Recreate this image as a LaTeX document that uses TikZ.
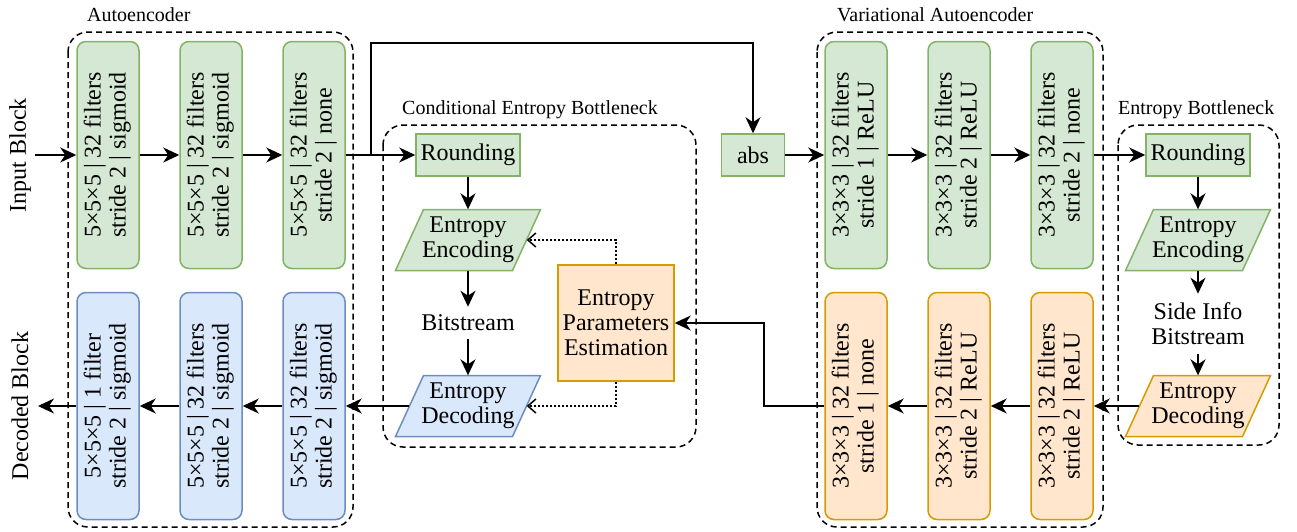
\documentclass[tikz,border=0pt]{standalone}
\usepackage{fontspec}
\setmainfont{Liberation Serif}
\usetikzlibrary{arrows.meta}
\definecolor{gfill}{HTML}{D5E8D4}\definecolor{gdraw}{HTML}{82B366}
\definecolor{bfill}{HTML}{DAE8FC}\definecolor{bdraw}{HTML}{6C8EBF}
\definecolor{ofill}{HTML}{FFE6CC}\definecolor{odraw}{HTML}{D79B00}
\newcommand\layertext[2]{\rotatebox{90}{\begin{tabular}{@{}c@{}}#1\\#2\end{tabular}}}
\newcommand\parashape[4]{%
  \filldraw[fill=#3,draw=#4,line width=1.5pt] (#1-44.5,#2-30.5) -- (#1+72.5,#2-30.5) -- (#1+44.5,#2+30.5) -- (#1-72.5,#2+30.5) -- cycle;}
\begin{document}
\begin{tikzpicture}[x=1pt,y=-1pt,
  every node/.style={font=\fontsize{24}{25}\selectfont},
  layer/.style={rounded corners=9pt, minimum width=62pt, minimum height=227pt, inner sep=0pt, line width=1.5pt},
  glayer/.style={layer, fill=gfill, draw=gdraw},
  blayer/.style={layer, fill=bfill, draw=bdraw},
  olayer/.style={layer, fill=ofill, draw=odraw},
  gbox/.style={fill=gfill, draw=gdraw, line width=1.5pt, inner sep=0pt, minimum height=42pt},
  obox/.style={fill=ofill, draw=odraw, line width=1.5pt, inner sep=0pt, align=center},
  parabox/.style={inner sep=0pt, minimum width=117pt, minimum height=61pt, align=center},
  plain/.style={inner sep=0pt, align=center},
  container/.style={draw, line width=1.5pt, dash pattern=on 6pt off 4pt, rounded corners=20pt},
  grouplabel/.style={font=\fontsize{20}{22}\selectfont, anchor=base west, inner sep=0pt},
  arr/.style={line width=1.8pt, -{Stealth[length=16pt,width=15pt,inset=5pt]}},
  dotarr/.style={line width=1.8pt, dash pattern=on 2pt off 2pt, -{Straight Barb[length=8pt,width=14pt,line width=1.5pt]}},
  plainline/.style={line width=1.8pt}
]
\useasboundingbox (0,0) rectangle (1297,531);

% containers
\draw[container] (68,32) rectangle (353,527);
\draw[container] (383,125) rectangle (696,447);
\draw[container] (817,32) rectangle (1103,527);
\draw[container] (1118,125) rectangle (1279,445);

\node[grouplabel] (lae) at (87,21) {Autoencoder};
\node[grouplabel] (lceb) at (402,114) {Conditional Entropy Bottleneck};
\node[grouplabel] (lvae) at (837,21) {Variational Autoencoder};
\node[grouplabel] (leb) at (1118,114) {Entropy Bottleneck};

% side labels
\node[rotate=90, plain] (inlab) at (20,155) {Input Block};
\node[rotate=90, plain] (outlab) at (20,406) {Decoded Block};
\coordinate (inp) at (35,155);
\coordinate (outp) at (38,406);

% autoencoder layers
\node[glayer] (e1) at (108,155) {\layertext{5×5×5 | 32 filters}{stride 2 | sigmoid}};
\node[glayer] (e2) at (211,155) {\layertext{5×5×5 | 32 filters}{stride 2 | sigmoid}};
\node[glayer] (e3) at (314,155) {\layertext{5×5×5 | 32 filters}{stride 2 | none}};
\node[blayer] (b1) at (108,406) {\layertext{5×5×5 | 1 filter}{stride 2 | sigmoid}};
\node[blayer] (b2) at (211,406) {\layertext{5×5×5 | 32 filters}{stride 2 | sigmoid}};
\node[blayer] (b3) at (314,406) {\layertext{5×5×5 | 32 filters}{stride 2 | sigmoid}};

% VAE layers
\node[glayer] (v1) at (856,155) {\layertext{3×3×3 | 32 filters}{stride 1 | ReLU}};
\node[glayer] (v2) at (959,155) {\layertext{3×3×3 | 32 filters}{stride 2 | ReLU}};
\node[glayer] (v3) at (1062,155) {\layertext{3×3×3 | 32 filters}{stride 2 | none}};
\node[olayer] (o1) at (856,406) {\layertext{3×3×3 | 32 filters}{stride 1 | none}};
\node[olayer] (o2) at (959,406) {\layertext{3×3×3 | 32 filters}{stride 2 | ReLU}};
\node[olayer] (o3) at (1062,406) {\layertext{3×3×3 | 32 filters}{stride 2 | ReLU}};

% conditional entropy bottleneck
\node[gbox, minimum width=104pt] (rnda) at (468,155) {Rounding};
\parashape{468}{240}{gfill}{gdraw}
\node[parabox] (enca) at (468,240) {Entropy\\Encoding};
\node[plain, inner sep=8pt] (bita) at (468,323) {Bitstream};
\parashape{468}{406}{bfill}{bdraw}
\node[parabox] (deca) at (468,406) {Entropy\\Decoding};
\node[obox, minimum width=116pt, minimum height=116pt] (epe) at (616,323) {Entropy\\Parameters\\Estimation};

% abs
\node[gbox, minimum width=63pt] (absn) at (753,155) {abs};

% entropy bottleneck
\node[gbox, minimum width=104pt] (rndb) at (1198,155) {Rounding};
\parashape{1198}{240}{gfill}{gdraw}
\node[parabox] (encb) at (1198,240) {Entropy\\Encoding};
\node[plain, inner sep=9pt] (side) at (1198,324) {Side Info\\Bitstream};
\parashape{1198}{406}{ofill}{odraw}
\node[parabox] (decb) at (1198,406) {Entropy\\Decoding};

% connectors: autoencoder
\draw[arr] (inp) -- (e1.west);
\draw[arr] (e1.east) -- (e2.west);
\draw[arr] (e2.east) -- (e3.west);
\draw[arr] (e3.east) -- (rnda.west);
\coordinate (br) at (371,155);
\coordinate (brtop) at (371,43);
\draw[arr] (br) -- (brtop) -| (absn.north);
\draw[arr] (absn.east) -- (v1.west);
\draw[arr] (v1.east) -- (v2.west);
\draw[arr] (v2.east) -- (v3.west);
\draw[arr] (v3.east) -- (rndb.west);

% entropy bottleneck flow
\draw[arr] (rndb.south) -- (encb.north);
\draw[arr] (encb.south) -- (side.north);
\draw[arr] (side.south) -- (decb.north);
\draw[arr] (decb.west) -- (o3.east);
\draw[arr] (o3.west) -- (o2.east);
\draw[arr] (o2.west) -- (o1.east);
\coordinate (hyp) at (764,406);
\draw[arr] (o1.west) -- (hyp) |- (epe.east);

% conditional bottleneck flow
\draw[arr] (rnda.south) -- (enca.north);
\draw[arr] (enca.south) -- (bita.north);
\draw[arr] (bita.south) -- (deca.north);
\draw[dotarr] (epe.north) |- (enca.east);
\draw[dotarr] (epe.south) |- (deca.east);
\draw[arr] (deca.west) -- (b3.east);
\draw[arr] (b3.west) -- (b2.east);
\draw[arr] (b2.west) -- (b1.east);
\draw[arr] (b1.west) -- (outp);
\end{tikzpicture}
\end{document}
